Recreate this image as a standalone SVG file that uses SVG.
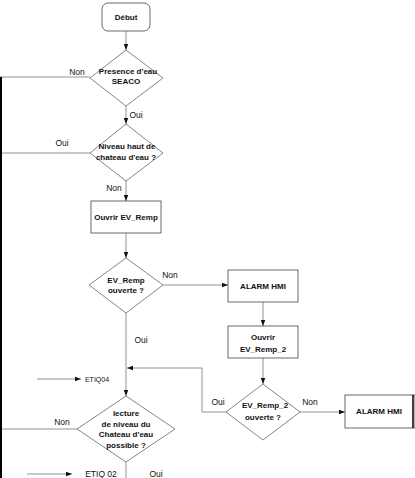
<svg xmlns="http://www.w3.org/2000/svg" width="415" height="478" viewBox="0 0 415 478">
<style>
text{font-family:"Liberation Sans",Arial,sans-serif;font-size:8px;font-weight:bold;fill:#111;text-anchor:middle}
.lbl{font-weight:normal;font-size:8.5px}
.sm{font-weight:normal;font-size:7px}
.shape{fill:#fff;stroke:#666;stroke-width:0.8}
.box{fill:#fff;stroke:#444;stroke-width:0.8}
.c{fill:none;stroke:#777;stroke-width:0.8}
.ca{fill:none;stroke:#777;stroke-width:0.8;marker-end:url(#ah)}
</style>
<defs>
<marker id="ah" viewBox="0 0 8 8" refX="8" refY="4" markerWidth="6" markerHeight="6" markerUnits="userSpaceOnUse" orient="auto">
<path d="M0,1 L8,4 L0,7 z" fill="#111"/>
</marker>
</defs>
<g id="connectors">
<path class="ca" d="M126,31 V50"/>
<path class="ca" d="M126,106 V124"/>
<path class="ca" d="M126,181 V201"/>
<path class="ca" d="M126,233 V258"/>
<path class="ca" d="M163,285 H228"/>
<path class="ca" d="M263,302 V326"/>
<path class="ca" d="M263,358 V384"/>
<path class="ca" d="M300,412 H345"/>
<path class="ca" d="M226,412 H202 V368 H127"/>
<path class="ca" d="M126,313 V396"/>
<path class="c" d="M126,462 V478"/>
<path class="c" d="M90,77 H0" stroke="#aaa"/>
<path class="c" d="M90,153 H0"/>
<path class="c" d="M77,429 H0" stroke="#333"/>
<path d="M1,77 V478" stroke="#000" stroke-width="2" fill="none"/>
<path class="ca" d="M37,379 H81"/>
<path class="ca" d="M27,474 H72"/>
</g>
<g id="debut">
<rect class="box" x="102" y="3" width="48" height="28" rx="6"/>
<text x="126" y="20">Début</text>
</g>
<g id="presence">
<polygon class="shape" points="126,50 163,78 126,106 90,78"/>
<text x="128" y="74">Presence d'eau</text>
<text x="126" y="84">SEACO</text>
</g>
<g id="niveau">
<polygon class="shape" points="126,124 163,153 126,181 90,153"/>
<text x="127" y="149">Niveau haut de</text>
<text x="126" y="160">chateau d'eau ?</text>
</g>
<g id="ouvrir1">
<rect class="box" x="91" y="201" width="70" height="32"/>
<text x="126" y="220">Ouvrir EV_Remp</text>
</g>
<g id="evremp">
<polygon class="shape" points="126,258 163,285 126,313 89,285"/>
<text x="126" y="283">EV_Remp</text>
<text x="126" y="293">ouverte ?</text>
</g>
<g id="alarm1">
<rect class="box" x="228" y="270" width="70" height="32"/>
<text x="263" y="289">ALARM HMI</text>
</g>
<g id="ouvrir2">
<rect class="box" x="228" y="326" width="70" height="32"/>
<text x="263" y="340">Ouvrir</text>
<text x="263" y="352">EV_Remp_2</text>
</g>
<g id="evremp2">
<polygon class="shape" points="263,384 300,412 263,440 226,412"/>
<text x="265" y="408">EV_Remp_2</text>
<text x="263" y="420">ouverte ?</text>
</g>
<g id="alarm2">
<rect class="box" x="345" y="395" width="70" height="33"/>
<line x1="413" y1="395" x2="413" y2="428" stroke="#000" stroke-width="1.5"/>
<text x="379" y="414">ALARM HMI</text>
</g>
<g id="lecture">
<polygon class="shape" points="126,396 175,429 126,462 77,429"/>
<text x="126" y="416">lecture</text>
<text x="126" y="427">de niveau du</text>
<text x="126" y="437">Chateau d'eau</text>
<text x="126" y="448">possible ?</text>
</g>
<g id="labels">
<text class="lbl" x="77" y="75">Non</text>
<text class="lbl" x="136" y="118">Oui</text>
<text class="lbl" x="62" y="146">Oui</text>
<text class="lbl" x="114" y="191">Non</text>
<text class="lbl" x="170" y="278">Non</text>
<text class="lbl" x="141" y="343">Oui</text>
<text class="lbl" x="218" y="405">Oui</text>
<text class="lbl" x="310" y="405">Non</text>
<text class="lbl" x="62" y="425">Non</text>
<text class="lbl" x="156" y="477">Oui</text>
<text class="sm" x="97" y="382">ETIQ04</text>
<text class="lbl" x="101" y="477">ETIQ 02</text>
</g>
</svg>
